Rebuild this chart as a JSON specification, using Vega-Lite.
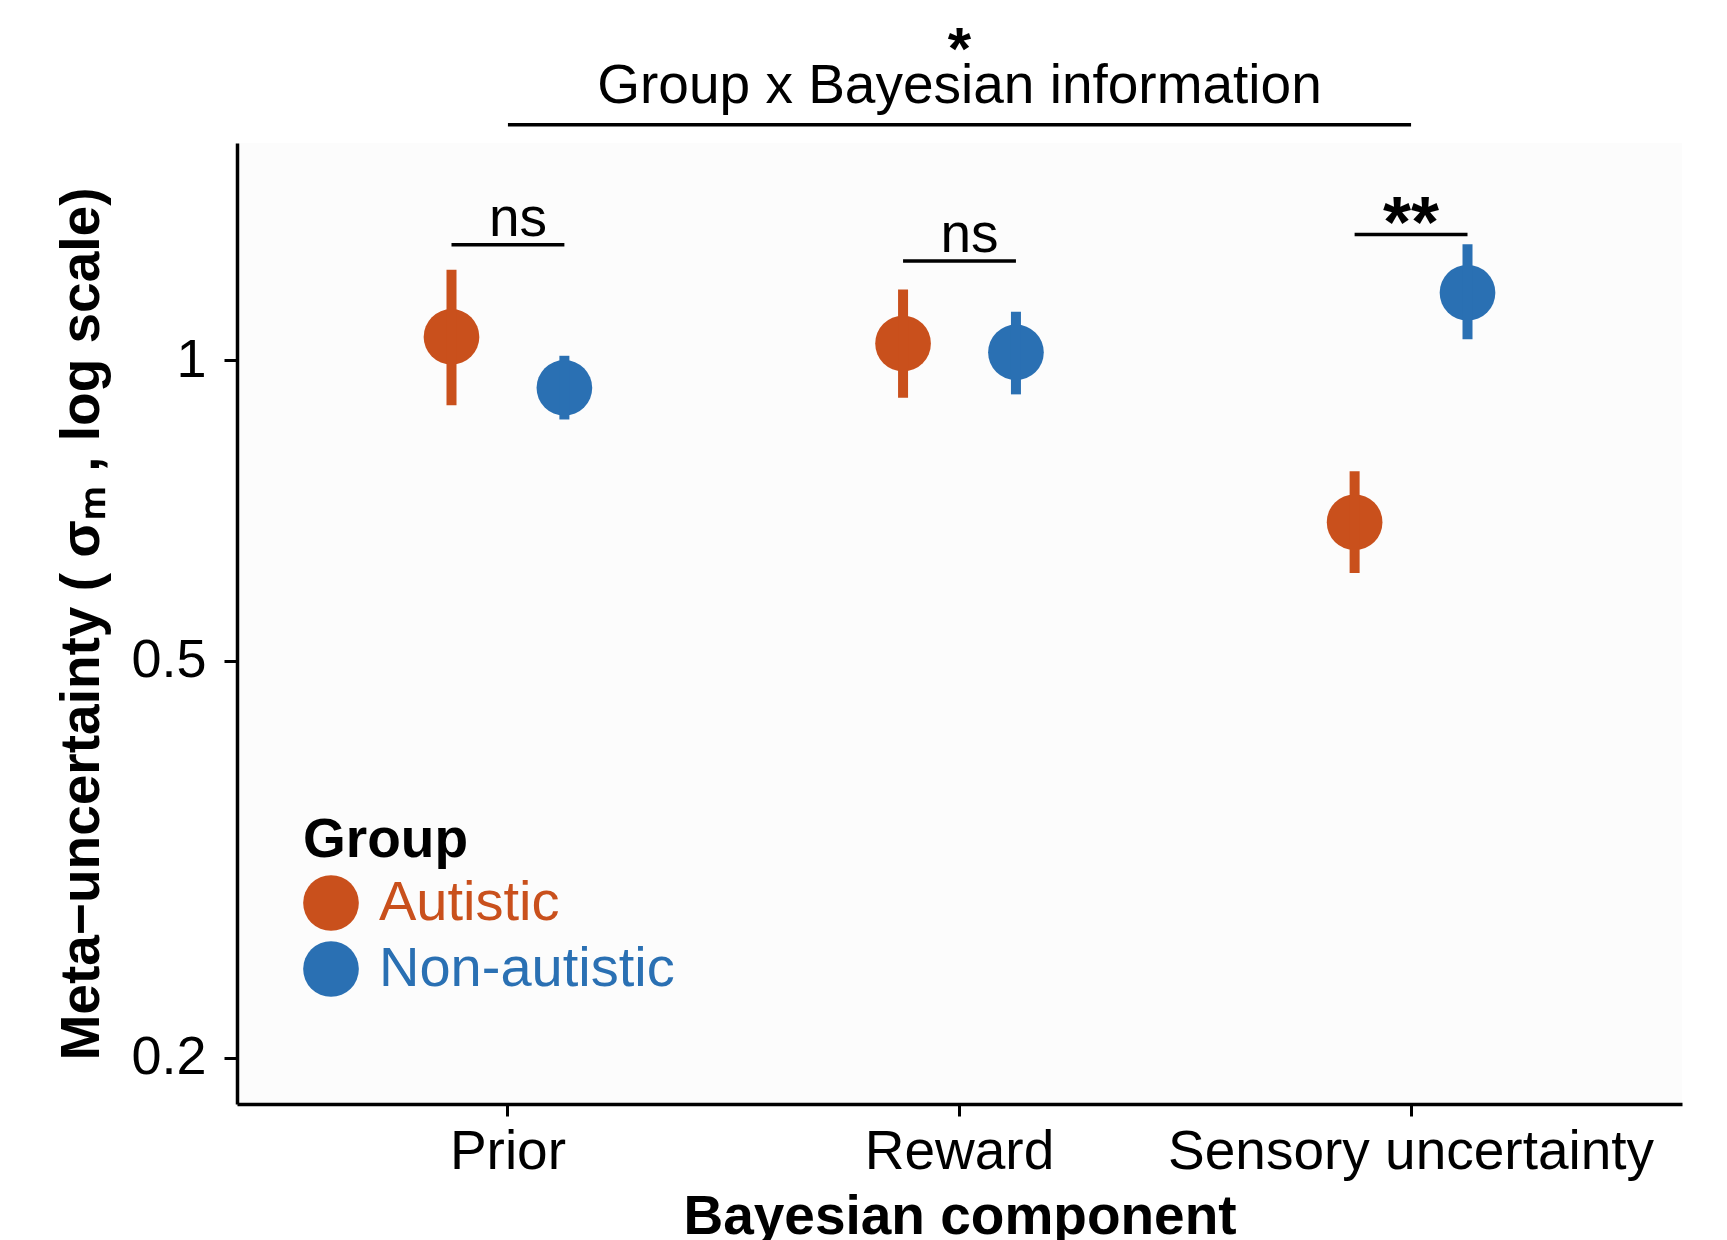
{
  "$schema": "https://vega.github.io/schema/vega-lite/v6.json",
  "width": 1445,
  "height": 961,
  "autosize": {"type": "none"},
  "padding": {"left": 237, "top": 143, "right": 45, "bottom": 136},
  "background": "white",
  "config": {"font": "Liberation Sans", "view": {"stroke": null, "fill": "#fcfcfc"}},
  "title": {
    "text": "*",
    "subtitle": "Group x Bayesian information",
    "fontSize": 60,
    "fontWeight": "bold",
    "color": "black",
    "subtitleFontSize": 55,
    "subtitleColor": "black",
    "anchor": "middle",
    "frame": "group",
    "offset": 3,
    "subtitlePadding": -22
  },
  "datasets": {
    "est": [
      {"component": "Prior", "group": "Autistic", "mean": 1.055, "lo": 0.901, "hi": 1.232},
      {"component": "Prior", "group": "Non-autistic", "mean": 0.938, "lo": 0.872, "hi": 1.010},
      {"component": "Reward", "group": "Autistic", "mean": 1.039, "lo": 0.917, "hi": 1.177},
      {"component": "Reward", "group": "Non-autistic", "mean": 1.018, "lo": 0.924, "hi": 1.118},
      {"component": "Sensory uncertainty", "group": "Autistic", "mean": 0.688, "lo": 0.612, "hi": 0.774},
      {"component": "Sensory uncertainty", "group": "Non-autistic", "mean": 1.168, "lo": 1.049, "hi": 1.306}
    ],
    "pairs": [
      {"component": "Prior", "group": "Autistic", "level": 1.305},
      {"component": "Prior", "group": "Non-autistic", "level": 1.305},
      {"component": "Reward", "group": "Autistic", "level": 1.257},
      {"component": "Reward", "group": "Non-autistic", "level": 1.257},
      {"component": "Sensory uncertainty", "group": "Autistic", "level": 1.336},
      {"component": "Sensory uncertainty", "group": "Non-autistic", "level": 1.336}
    ],
    "labels": [
      {"component": "Prior", "level": 1.305, "label": "ns"},
      {"component": "Reward", "level": 1.257, "label": "ns"},
      {"component": "Sensory uncertainty", "level": 1.336, "label": "**"}
    ],
    "top": [
      {"component": "Prior", "level": 1.721},
      {"component": "Sensory uncertainty", "level": 1.721}
    ]
  },
  "encoding": {
    "x": {
      "field": "component",
      "type": "nominal",
      "sort": ["Prior", "Reward", "Sensory uncertainty"],
      "scale": {"type": "band", "paddingInner": 0, "paddingOuter": 0.1},
      "axis": {
        "title": "Bayesian component",
        "labelAngle": 0,
        "labelFontSize": 55,
        "labelColor": "black",
        "labelLimit": 0,
        "titleFontSize": 55,
        "titleFontWeight": "bold",
        "titleColor": "black",
        "domainColor": "black",
        "domainWidth": 3.5,
        "tickColor": "black",
        "tickWidth": 3,
        "tickSize": 12,
        "labelPadding": 9,
        "titlePadding": 11,
        "grid": false
      }
    }
  },
  "layer": [
    {
      "data": {"name": "top"},
      "mark": {"type": "line", "color": "black", "strokeWidth": 3.5, "strokeCap": "butt"},
      "encoding": {
        "y": {"field": "level", "type": "quantitative", "scale": {"type": "log", "domain": [0.1798, 1.65], "nice": false}}
      }
    },
    {
      "data": {"name": "pairs"},
      "mark": {"type": "line", "color": "black", "strokeWidth": 3.5, "strokeCap": "butt"},
      "encoding": {
        "xOffset": {"field": "group", "type": "nominal", "scale": {"paddingInner": 0, "paddingOuter": 1.016}},
        "y": {"field": "level", "type": "quantitative"},
        "detail": {"field": "component"}
      }
    },
    {
      "data": {"name": "labels"},
      "transform": [{"filter": "datum.label === 'ns'"}],
      "mark": {"type": "text", "fontSize": 55, "color": "black", "baseline": "alphabetic", "dy": -9, "dx": 10},
      "encoding": {
        "y": {"field": "level", "type": "quantitative"},
        "text": {"field": "label"}
      }
    },
    {
      "data": {"name": "labels"},
      "transform": [{"filter": "datum.label !== 'ns'"}],
      "mark": {"type": "text", "fontSize": 72, "fontWeight": "bold", "color": "black", "baseline": "alphabetic", "dy": 12},
      "encoding": {
        "y": {"field": "level", "type": "quantitative"},
        "text": {"field": "label"}
      }
    },
    {
      "data": {"name": "est"},
      "mark": {"type": "point", "filled": true, "opacity": 1, "size": 3100, "shape": "circle"},
      "encoding": {
        "xOffset": {"field": "group", "type": "nominal", "scale": {"paddingInner": 0, "paddingOuter": 1.016}},
        "y": {
          "field": "mean",
          "type": "quantitative",
          "axis": {
            "values": [0.2, 0.5, 1],
            "format": "~g",
            "title": "Meta−uncertainty ( σₘ , log scale)",
            "labelFontSize": 54,
            "labelColor": "black",
            "titleFontSize": 55,
            "titleFontWeight": "bold",
            "titleColor": "black",
            "domainColor": "black",
            "domainWidth": 3.5,
            "tickColor": "black",
            "tickWidth": 3,
            "tickSize": 13,
            "labelPadding": 18,
            "titlePadding": 20,
            "grid": false
          }
        },
        "color": {
          "field": "group",
          "type": "nominal",
          "scale": {"domain": ["Autistic", "Non-autistic"], "range": ["#C9501C", "#2A70B3"]},
          "legend": {
            "title": "Group",
            "orient": "none",
            "legendX": 66,
            "legendY": 671,
            "padding": 0,
            "titleFontSize": 55,
            "titleFontWeight": "bold",
            "titleColor": "black",
            "titlePadding": 6,
            "labelFontSize": 56,
            "labelOffset": 20,
            "labelLimit": 0,
            "rowPadding": 10,
            "symbolSize": 3100,
            "symbolType": "circle",
            "symbolOpacity": 1,
            "symbolStrokeWidth": 0,
            "encode": {
              "labels": {
                "update": {
                  "fill": {"signal": "datum.value === 'Autistic' ? '#C9501C' : '#2A70B3'"}
                }
              }
            }
          }
        }
      }
    },
    {
      "data": {"name": "est"},
      "mark": {"type": "rule", "strokeWidth": 10, "strokeCap": "butt"},
      "encoding": {
        "xOffset": {"field": "group", "type": "nominal", "scale": {"paddingInner": 0, "paddingOuter": 1.016}},
        "y": {"field": "lo", "type": "quantitative"},
        "y2": {"field": "hi"},
        "color": {"field": "group", "type": "nominal"}
      }
    }
  ]
}
